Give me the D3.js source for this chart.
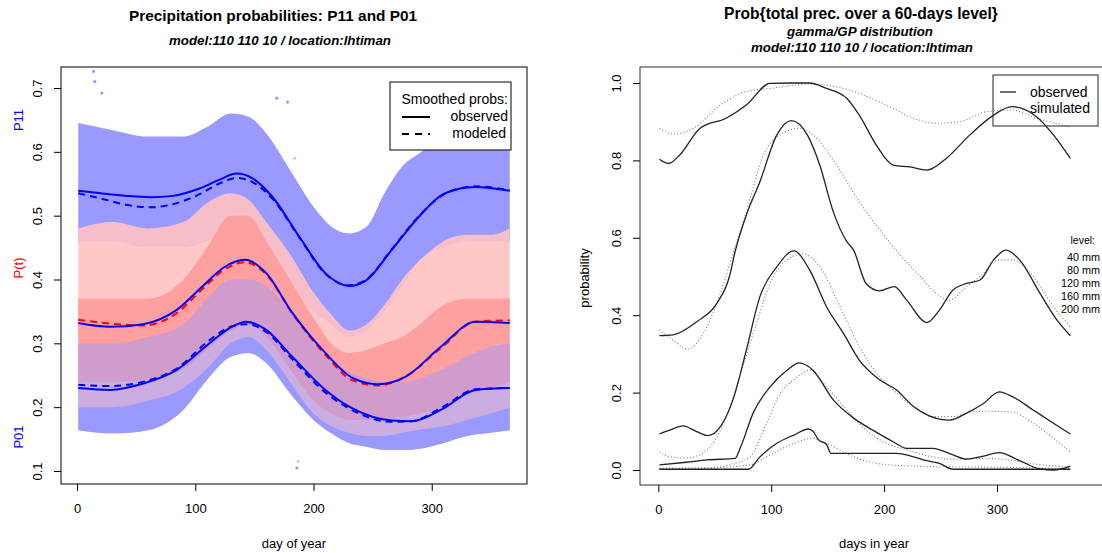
<!DOCTYPE html>
<html>
<head>
<meta charset="utf-8">
<script src="https://cdn.jsdelivr.net/npm/d3@7"></script>
<style>
  body { margin: 0; background: #fff; }
  svg { font-family: 'Liberation Sans', Arial, sans-serif; }
  .tick text { font-size: 13px; fill: #000; }
  .tick line { stroke: #000; }
</style>
</head>
<body>
<svg id="chart" width="1102" height="553"></svg>
<script>
'use strict';

// ---- left panel: smoothed probabilities ----
var p11Days = [1, 20, 42, 62, 81, 104, 120, 135, 148, 165, 188, 210, 230, 244, 266, 289, 311, 337, 366];
var p11Obs = [0.539, 0.535, 0.531, 0.529, 0.531, 0.543, 0.556, 0.566, 0.559, 0.530, 0.467, 0.410, 0.390, 0.398, 0.446, 0.498, 0.535, 0.545, 0.539];
var p11Mod = [0.535, 0.527, 0.517, 0.513, 0.518, 0.534, 0.550, 0.559, 0.553, 0.527, 0.466, 0.409, 0.391, 0.399, 0.447, 0.499, 0.534, 0.546, 0.540];

var ptDays = [1, 28, 56, 84, 106, 125, 142, 160, 182, 210, 233, 255, 278, 308, 337, 366];
var ptObs = [0.332, 0.326, 0.330, 0.352, 0.389, 0.420, 0.431, 0.410, 0.348, 0.285, 0.246, 0.236, 0.248, 0.295, 0.334, 0.332];
var ptMod = [0.337, 0.331, 0.328, 0.347, 0.385, 0.416, 0.427, 0.408, 0.347, 0.282, 0.242, 0.234, 0.248, 0.293, 0.334, 0.336];

var p01Days = [1, 28, 56, 84, 112, 130, 143, 160, 182, 210, 233, 266, 283, 308, 337, 366];
var p01Obs = [0.230, 0.227, 0.237, 0.258, 0.300, 0.325, 0.334, 0.321, 0.279, 0.227, 0.198, 0.179, 0.178, 0.196, 0.227, 0.230];
var p01Mod = [0.235, 0.233, 0.240, 0.260, 0.305, 0.326, 0.330, 0.318, 0.275, 0.223, 0.195, 0.177, 0.178, 0.199, 0.228, 0.230];

// extent of the daily point clouds
var bandDays = [1, 30, 60, 90, 110, 130, 145, 160, 180, 200, 215, 230, 245, 260, 275, 290, 310, 330, 350, 366];
var p11Hi = [0.645, 0.634, 0.624, 0.624, 0.639, 0.660, 0.655, 0.629, 0.572, 0.514, 0.483, 0.472, 0.483, 0.535, 0.577, 0.598, 0.624, 0.629, 0.632, 0.634];
var p11Lo = [0.46, 0.46, 0.45, 0.45, 0.46, 0.47, 0.47, 0.45, 0.40, 0.35, 0.33, 0.31, 0.32, 0.35, 0.39, 0.43, 0.45, 0.46, 0.46, 0.46];
var ptHi = [0.48, 0.49, 0.48, 0.49, 0.52, 0.535, 0.525, 0.49, 0.44, 0.38, 0.345, 0.32, 0.33, 0.36, 0.40, 0.43, 0.46, 0.47, 0.47, 0.48];
var ptCoreHi = [0.37, 0.37, 0.37, 0.40, 0.45, 0.50, 0.50, 0.46, 0.40, 0.34, 0.30, 0.285, 0.29, 0.30, 0.31, 0.33, 0.36, 0.37, 0.37, 0.37];
var ptCoreLo = [0.24, 0.24, 0.245, 0.26, 0.29, 0.32, 0.33, 0.31, 0.26, 0.21, 0.19, 0.18, 0.18, 0.18, 0.185, 0.19, 0.20, 0.22, 0.23, 0.24];
var ptLo = [0.20, 0.20, 0.21, 0.23, 0.26, 0.30, 0.31, 0.29, 0.24, 0.19, 0.17, 0.16, 0.155, 0.155, 0.16, 0.165, 0.17, 0.18, 0.19, 0.20];
var p01Hi = [0.30, 0.30, 0.31, 0.33, 0.37, 0.40, 0.40, 0.39, 0.35, 0.30, 0.27, 0.255, 0.245, 0.24, 0.24, 0.245, 0.26, 0.28, 0.295, 0.30];
var p01Lo = [0.164, 0.159, 0.164, 0.196, 0.243, 0.279, 0.285, 0.269, 0.222, 0.180, 0.159, 0.144, 0.138, 0.133, 0.133, 0.135, 0.144, 0.155, 0.160, 0.164];

var outBlueDays = [14, 15, 21, 169, 178, 186];
var outBlueVals = [0.726, 0.710, 0.692, 0.684, 0.678, 0.105];
var outRedDays = [187, 184];
var outRedVals = [0.115, 0.59];

var leftTicksX = [0, 100, 200, 300];
var leftTicksY = [0.1, 0.2, 0.3, 0.4, 0.5, 0.6, 0.7];

// ---- right panel: exceedance probabilities ----
var levels = ['40 mm', '80 mm', '120 mm', '160 mm', '200 mm'];

var r40Days = [1, 9, 19, 37, 60, 78, 99, 117, 134, 149, 167, 178, 193, 208, 223, 238, 255, 276, 297, 313, 335, 350, 365];
var r40Obs = [0.803, 0.792, 0.814, 0.883, 0.909, 0.943, 0.999, 1.0, 1.0, 0.986, 0.960, 0.917, 0.840, 0.788, 0.783, 0.775, 0.805, 0.866, 0.917, 0.939, 0.913, 0.866, 0.805];
var r40SimDays = [1, 13, 31, 55, 78, 99, 134, 158, 178, 202, 226, 246, 267, 291, 313, 335, 365];
var r40Sim = [0.883, 0.868, 0.883, 0.943, 0.978, 0.986, 0.997, 0.990, 0.973, 0.943, 0.909, 0.896, 0.900, 0.926, 0.930, 0.909, 0.887];

var r80Days = [1, 13, 34, 52, 63, 68, 78, 90, 105, 118, 132, 143, 155, 167, 173, 184, 196, 209, 220, 238, 249, 261, 273, 285, 297, 308, 320, 338, 353, 365];
var r80Obs = [0.347, 0.349, 0.383, 0.431, 0.500, 0.564, 0.659, 0.745, 0.866, 0.903, 0.866, 0.788, 0.667, 0.590, 0.568, 0.482, 0.463, 0.474, 0.439, 0.381, 0.413, 0.465, 0.482, 0.491, 0.543, 0.568, 0.543, 0.457, 0.388, 0.347];
var r80SimDays = [1, 13, 26, 40, 55, 67, 78, 93, 108, 125, 137, 158, 178, 202, 214, 232, 246, 258, 273, 285, 302, 314, 332, 350, 365];
var r80Sim = [0.362, 0.336, 0.312, 0.353, 0.457, 0.568, 0.667, 0.814, 0.866, 0.883, 0.866, 0.788, 0.693, 0.599, 0.556, 0.500, 0.457, 0.439, 0.474, 0.500, 0.543, 0.543, 0.500, 0.422, 0.370];

var r120Days = [1, 10, 22, 34, 44, 55, 67, 78, 90, 105, 120, 134, 149, 164, 178, 196, 211, 226, 240, 258, 273, 288, 302, 314, 332, 350, 365];
var r120Obs = [0.093, 0.103, 0.114, 0.099, 0.089, 0.112, 0.189, 0.310, 0.448, 0.525, 0.566, 0.517, 0.422, 0.353, 0.284, 0.233, 0.207, 0.164, 0.140, 0.129, 0.147, 0.172, 0.202, 0.189, 0.155, 0.121, 0.093];
var r120SimDays = [1, 10, 25, 43, 58, 72, 87, 99, 114, 128, 143, 161, 178, 196, 208, 226, 243, 261, 279, 297, 314, 332, 350, 365];
var r120Sim = [0.047, 0.034, 0.031, 0.052, 0.121, 0.241, 0.379, 0.482, 0.543, 0.558, 0.525, 0.422, 0.319, 0.241, 0.207, 0.164, 0.138, 0.138, 0.151, 0.152, 0.149, 0.121, 0.082, 0.047];

var r160Days = [1, 25, 43, 68, 73, 84, 99, 114, 125, 137, 155, 173, 190, 208, 220, 243, 261, 273, 288, 302, 320, 338, 350, 365];
var r160Obs = [0.013, 0.020, 0.026, 0.030, 0.060, 0.147, 0.215, 0.258, 0.277, 0.258, 0.181, 0.134, 0.103, 0.073, 0.056, 0.056, 0.039, 0.028, 0.036, 0.045, 0.024, 0.003, 0.0, 0.010];
var r160SimDays = [1, 40, 63, 81, 96, 108, 120, 134, 149, 167, 184, 202, 220, 243, 261, 285, 305, 329, 365];
var r160Sim = [0.003, 0.003, 0.013, 0.034, 0.121, 0.198, 0.233, 0.258, 0.215, 0.155, 0.103, 0.069, 0.052, 0.034, 0.028, 0.030, 0.028, 0.017, 0.007];

var r200Days = [1, 80, 90, 105, 120, 133, 137, 142, 149, 153, 173, 211, 226, 238, 249, 261, 365];
var r200Obs = [0.002, 0.002, 0.034, 0.069, 0.090, 0.106, 0.100, 0.078, 0.066, 0.043, 0.043, 0.043, 0.034, 0.024, 0.017, 0.002, 0.002];
var r200SimDays = [1, 55, 81, 99, 120, 137, 149, 173, 196, 226, 261, 305, 365];
var r200Sim = [0.005, 0.007, 0.013, 0.039, 0.069, 0.082, 0.069, 0.034, 0.016, 0.010, 0.008, 0.007, 0.003];

var rightTicksX = [0, 100, 200, 300];
var rightTicksY = [0, 0.2, 0.4, 0.6, 0.8, 1.0];

var svg = d3.select('#chart');

function zip(xs, ys) {
  return xs.map(function (x, i) { return [x, ys[i]]; });
}
function zip3(xs, lo, hi) {
  return xs.map(function (x, i) { return [x, lo[i], hi[i]]; });
}

// ================= left panel =================
var L = {left: 61, right: 527, top: 67, bottom: 484};
var xL = d3.scaleLinear().domain([-13.6, 380.6]).range([L.left, L.right]);
var yL = d3.scaleLinear().domain([0.1, 0.7]).range([471, 88]);

svg.append('clipPath').attr('id', 'clipL')
  .append('rect')
  .attr('x', L.left).attr('y', L.top)
  .attr('width', L.right - L.left).attr('height', L.bottom - L.top);

var gL = svg.append('g').attr('clip-path', 'url(#clipL)');

var band = d3.area()
  .x(function (d) { return xL(d[0]); })
  .y0(function (d) { return yL(d[1]); })
  .y1(function (d) { return yL(d[2]); })
  .curve(d3.curveMonotoneX);

// blue clouds underneath, red cloud over them, P01 blue mixed back in on top
gL.append('path').datum(zip3(bandDays, p11Lo, p11Hi))
  .attr('d', band).attr('fill', '#9999ff');
gL.append('path').datum(zip3(bandDays, p01Lo, p01Hi))
  .attr('d', band).attr('fill', '#9999ff');
gL.append('path').datum(zip3(bandDays, ptLo, ptHi))
  .attr('d', band).attr('fill', '#ffc2c2').attr('fill-opacity', 0.9);
gL.append('path').datum(zip3(bandDays, ptCoreLo, ptCoreHi))
  .attr('d', band).attr('fill', '#ff9b9b').attr('fill-opacity', 0.9);
gL.append('path').datum(zip3(bandDays, p01Lo, p01Hi))
  .attr('d', band).attr('fill', '#9999ff').attr('fill-opacity', 0.45);

gL.selectAll('circle.ob').data(zip(outBlueDays, outBlueVals)).enter()
  .append('circle').attr('class', 'ob')
  .attr('cx', function (d) { return xL(d[0]); })
  .attr('cy', function (d) { return yL(d[1]); })
  .attr('r', 1.6).attr('fill', '#9999ff');
gL.selectAll('circle.or').data(zip(outRedDays, outRedVals)).enter()
  .append('circle').attr('class', 'or')
  .attr('cx', function (d) { return xL(d[0]); })
  .attr('cy', function (d) { return yL(d[1]); })
  .attr('r', 1.2).attr('fill', '#ff9999');

var lineL = d3.line()
  .x(function (d) { return xL(d[0]); })
  .y(function (d) { return yL(d[1]); })
  .curve(d3.curveMonotoneX);

// modeled (dashed) first, observed on top
[[p11Days, p11Mod, 'blue'], [ptDays, ptMod, 'red'], [p01Days, p01Mod, 'blue']].forEach(function (s) {
  gL.append('path').datum(zip(s[0], s[1]))
    .attr('d', lineL).attr('fill', 'none')
    .attr('stroke', s[2]).attr('stroke-width', 2)
    .attr('stroke-dasharray', '7,5');
});
[[p11Days, p11Obs], [ptDays, ptObs], [p01Days, p01Obs]].forEach(function (s) {
  gL.append('path').datum(zip(s[0], s[1]))
    .attr('d', lineL).attr('fill', 'none')
    .attr('stroke', 'blue').attr('stroke-width', 2);
});

svg.append('rect')
  .attr('x', L.left).attr('y', L.top)
  .attr('width', L.right - L.left).attr('height', L.bottom - L.top)
  .attr('fill', 'none').attr('stroke', '#000').attr('stroke-width', 1);

svg.append('g')
  .attr('transform', 'translate(0,' + L.bottom + ')')
  .call(d3.axisBottom(xL).tickValues(leftTicksX).tickSize(7).tickPadding(13).tickFormat(d3.format('d')))
  .call(function (g) { g.select('.domain').remove(); });

svg.append('g')
  .attr('transform', 'translate(' + L.left + ',0)')
  .call(d3.axisLeft(yL).tickValues(leftTicksY).tickSize(7).tickFormat(d3.format('.1f')))
  .call(function (g) {
    g.select('.domain').remove();
    g.selectAll('.tick text')
      .attr('x', 0).attr('dy', 0)
      .attr('text-anchor', 'middle')
      .attr('transform', 'translate(-19,0) rotate(-90)');
  });

// legend
var legL = svg.append('g');
legL.append('rect').attr('x', 390).attr('y', 82).attr('width', 121).attr('height', 68)
  .attr('fill', '#fff').attr('stroke', '#000');
legL.append('text').attr('x', 508).attr('y', 104).attr('text-anchor', 'end')
  .style('font-size', '14px').text('Smoothed probs:');
legL.append('line').attr('x1', 402).attr('x2', 430).attr('y1', 117).attr('y2', 117)
  .attr('stroke', '#000').attr('stroke-width', 2);
legL.append('text').attr('x', 508).attr('y', 121).attr('text-anchor', 'end')
  .style('font-size', '14px').text('observed');
legL.append('line').attr('x1', 402).attr('x2', 430).attr('y1', 134).attr('y2', 134)
  .attr('stroke', '#000').attr('stroke-width', 2).attr('stroke-dasharray', '7,6');
legL.append('text').attr('x', 506).attr('y', 138).attr('text-anchor', 'end')
  .style('font-size', '14px').text('modeled');

// titles and labels
svg.append('text').attr('x', 273).attr('y', 21).attr('text-anchor', 'middle')
  .style('font-size', '15.4px').style('font-weight', 'bold')
  .text('Precipitation probabilities: P11 and P01');
svg.append('text').attr('x', 280).attr('y', 45).attr('text-anchor', 'middle')
  .style('font-size', '13.3px').style('font-weight', 'bold').style('font-style', 'italic')
  .text('model:110 110 10 / location:lhtiman');
svg.append('text').attr('x', 294).attr('y', 548).attr('text-anchor', 'middle')
  .style('font-size', '13px').text('day of year');

[['P11', 120, 'blue'], ['P(t)', 268, 'red'], ['P01', 437, 'blue']].forEach(function (t) {
  svg.append('text')
    .attr('transform', 'translate(23,' + t[1] + ') rotate(-90)')
    .attr('text-anchor', 'middle')
    .style('font-size', '13px').attr('fill', t[2])
    .text(t[0]);
});

// ================= right panel =================
var R = {left: 640, right: 1108, top: 67, bottom: 485};
var xR = d3.scaleLinear().domain([0, 300]).range([658.3, 997]);
var yR = d3.scaleLinear().domain([0, 1]).range([470, 83]);

var lineR = d3.line()
  .x(function (d) { return xR(d[0]); })
  .y(function (d) { return yR(d[1]); })
  .curve(d3.curveMonotoneX);

var simSeries = [[r40SimDays, r40Sim], [r80SimDays, r80Sim], [r120SimDays, r120Sim], [r160SimDays, r160Sim], [r200SimDays, r200Sim]];
var obsSeries = [[r40Days, r40Obs], [r80Days, r80Obs], [r120Days, r120Obs], [r160Days, r160Obs], [r200Days, r200Obs]];

simSeries.forEach(function (s) {
  svg.append('path').datum(zip(s[0], s[1]))
    .attr('d', lineR).attr('fill', 'none')
    .attr('stroke', '#777').attr('stroke-width', 1.1)
    .attr('stroke-dasharray', '1,2.2');
});
obsSeries.forEach(function (s) {
  svg.append('path').datum(zip(s[0], s[1]))
    .attr('d', lineR).attr('fill', 'none')
    .attr('stroke', '#222').attr('stroke-width', 1.3);
});

svg.append('rect')
  .attr('x', R.left).attr('y', R.top)
  .attr('width', R.right - R.left).attr('height', R.bottom - R.top)
  .attr('fill', 'none').attr('stroke', '#333').attr('stroke-width', 1);

svg.append('g')
  .attr('transform', 'translate(0,' + R.bottom + ')')
  .call(d3.axisBottom(xR).tickValues(rightTicksX).tickSize(7).tickPadding(13).tickFormat(d3.format('d')))
  .call(function (g) { g.select('.domain').remove(); });

svg.append('g')
  .attr('transform', 'translate(' + R.left + ',0)')
  .call(d3.axisLeft(yR).tickValues(rightTicksY).tickSize(7).tickFormat(d3.format('.1f')))
  .call(function (g) {
    g.select('.domain').remove();
    g.selectAll('.tick text')
      .attr('x', 0).attr('dy', 0)
      .attr('text-anchor', 'middle')
      .attr('transform', 'translate(-19,0) rotate(-90)');
  });

// legend
var legR = svg.append('g');
legR.append('rect').attr('x', 993).attr('y', 75).attr('width', 105).attr('height', 51)
  .attr('fill', 'none').attr('stroke', '#222');
legR.append('line').attr('x1', 1000).attr('x2', 1016).attr('y1', 92).attr('y2', 92)
  .attr('stroke', '#222').attr('stroke-width', 1.3);
legR.append('text').attr('x', 1030).attr('y', 97)
  .style('font-size', '14px').text('observed');
legR.append('line').attr('x1', 1000).attr('x2', 1016).attr('y1', 108).attr('y2', 108)
  .attr('stroke', '#bbb').attr('stroke-width', 1).attr('stroke-dasharray', '1,2.2');
legR.append('text').attr('x', 1030).attr('y', 113)
  .style('font-size', '14px').text('simulated');

// level labels
svg.append('text').attr('x', 1095).attr('y', 244).attr('text-anchor', 'end')
  .style('font-size', '10.5px').text('level:');
svg.selectAll('text.lvl').data(levels).enter()
  .append('text').attr('class', 'lvl')
  .attr('x', 1100)
  .attr('y', function (d, i) { return 261 + i * 13; })
  .attr('text-anchor', 'end')
  .style('font-size', '10.8px')
  .text(function (d) { return d; });

svg.append('text').attr('x', 861).attr('y', 19).attr('text-anchor', 'middle')
  .style('font-size', '15.6px').style('font-weight', 'bold')
  .text('Prob{total prec. over a 60-days level}');
svg.append('text').attr('x', 860).attr('y', 36).attr('text-anchor', 'middle')
  .style('font-size', '13.3px').style('font-weight', 'bold').style('font-style', 'italic')
  .text('gamma/GP distribution');
svg.append('text').attr('x', 862).attr('y', 52).attr('text-anchor', 'middle')
  .style('font-size', '13.3px').style('font-weight', 'bold').style('font-style', 'italic')
  .text('model:110 110 10 / location:lhtiman');
svg.append('text').attr('x', 874).attr('y', 548).attr('text-anchor', 'middle')
  .style('font-size', '13px').text('days in year');
svg.append('text')
  .attr('transform', 'translate(589,278) rotate(-90)')
  .attr('text-anchor', 'middle')
  .style('font-size', '13px')
  .text('probability');
</script>
</body>
</html>
